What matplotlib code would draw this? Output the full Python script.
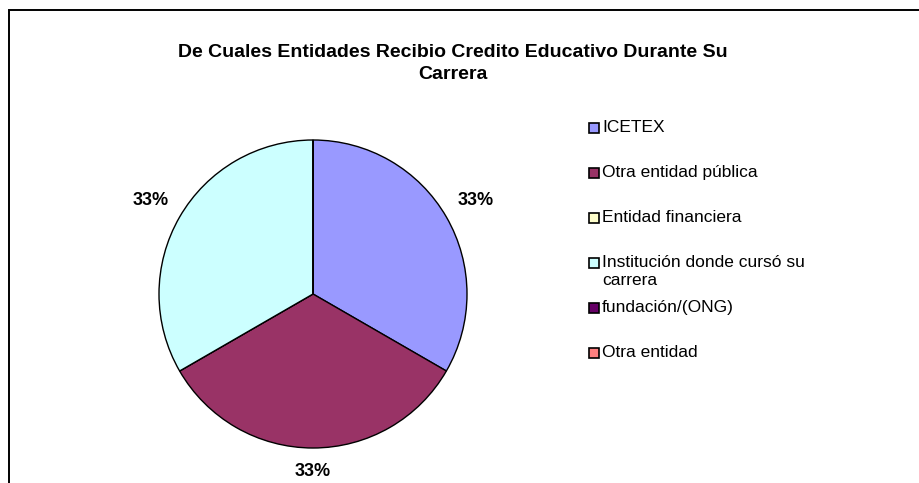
import matplotlib
matplotlib.use("Agg")
import matplotlib.pyplot as plt
from matplotlib.patches import Rectangle
import numpy as np

plt.rcParams["font.family"] = ["Liberation Sans", "DejaVu Sans"]

title = "De Cuales Entidades Recibio Credito Educativo Durante Su\nCarrera"
labels = ["ICETEX", "Otra entidad pública", "Entidad financiera",
          "Institución donde cursó su\ncarrera", "fundación/(ONG)", "Otra entidad"]
values = [1, 1, 0, 1, 0, 0]
colors = ["#9999FF", "#993366", "#FFFFCC", "#CCFFFF", "#660066", "#FF8080"]

W, H = 919, 483
fig = plt.figure(figsize=(W / 100, H / 100), dpi=100)
fig.patch.set_facecolor("white")

def fx(px):
    return px / W

def fy(py):
    return 1 - py / H

# chart area border (runs off the right and bottom edges)
fig.patches.append(Rectangle((fx(9), fy(H + 20)), fx(W + 20), (H + 10) / H,
                             transform=fig.transFigure, fill=False,
                             edgecolor="black", linewidth=1.4))

fig.text(fx(453), fy(63.5), title, ha="center", va="center", fontsize=14,
         fontweight="bold", linespacing=1.33, transform=fig.transFigure)

cx, cy, r = 313, 294, 154
ax = fig.add_axes([fx(cx - r), fy(cy + r), 2 * r / W, 2 * r / H])
wedges, _ = ax.pie(values, colors=colors, startangle=90, counterclock=False,
                   radius=1.0, wedgeprops=dict(edgecolor="black", linewidth=1.0))
ax.set_xlim(-1, 1)
ax.set_ylim(-1, 1)
ax.set_axis_off()

total = sum(values)
for w, v in zip(wedges, values):
    if v == 0:
        continue
    ang = np.deg2rad((w.theta1 + w.theta2) / 2)
    c, s = np.cos(ang), np.sin(ang)
    d = 1.15 if abs(c) < 0.2 else 1.22
    ax.text(d * c, d * s, f"{100 * v / total:.0f}%", ha="center", va="center",
            fontsize=13, fontweight="bold", clip_on=False)

# legend
lx, ly0, step, box = 589, 128, 45, 10
for i, (lab, col) in enumerate(zip(labels, colors)):
    y = ly0 + i * step
    fig.patches.append(Rectangle((fx(lx), fy(y + box / 2)), box / W, box / H,
                                 transform=fig.transFigure, facecolor=col,
                                 edgecolor="black", linewidth=1.2))
    fig.text(fx(lx + 13), fy(y - 8), lab, ha="left", va="top", fontsize=12.5,
             linespacing=1.22, transform=fig.transFigure)

fig.savefig("out.png", dpi=100, facecolor="white")
